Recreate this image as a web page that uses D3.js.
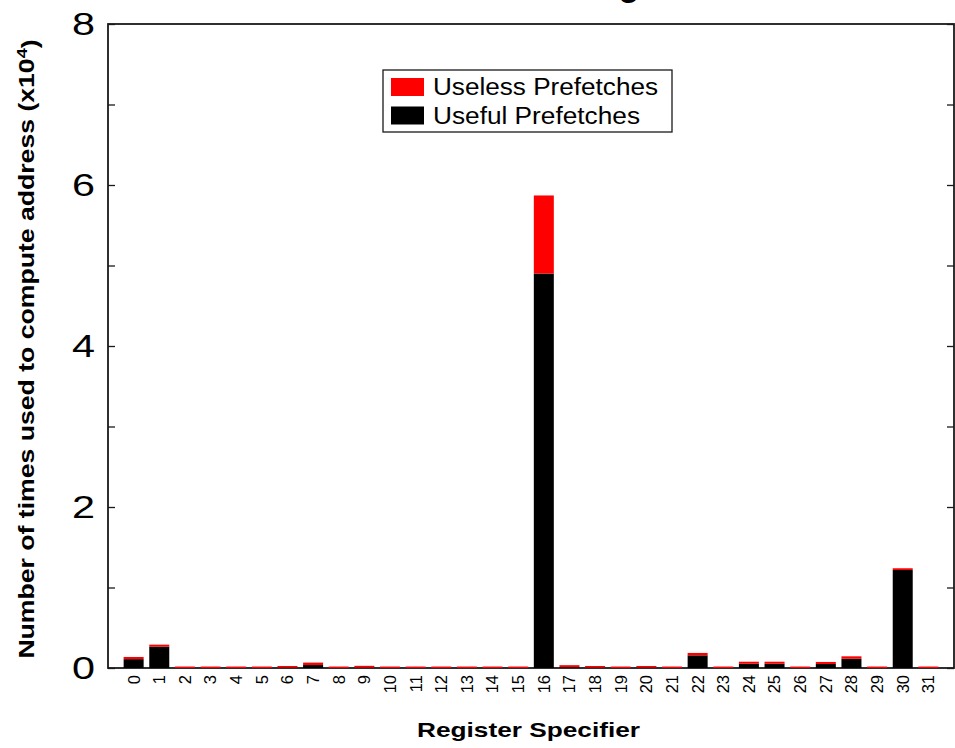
<!DOCTYPE html>
<html>
<head>
<meta charset="utf-8">
<script src="https://cdn.jsdelivr.net/npm/d3@7"></script>
<style>
  html, body { margin: 0; padding: 0; background: #fff; }
  svg { display: block; }
  text { font-family: "Liberation Sans", Arial, Helvetica, sans-serif; fill: #000; }
</style>
</head>
<body>
<svg id="chart" width="955" height="748"></svg>
<script>
// ---- data (values in units of 10^4) ----
const categories = ["0","1","2","3","4","5","6","7","8","9","10","11","12","13","14","15",
                    "16","17","18","19","20","21","22","23","24","25","26","27","28","29","30","31"];
const usefulPrefetches  = [0.11, 0.265, 0, 0, 0, 0, 0.005, 0.037, 0, 0.005, 0, 0, 0, 0, 0, 0,
                           4.90, 0.01, 0.005, 0, 0.005, 0, 0.157, 0, 0.053, 0.053, 0, 0.05, 0.115, 0, 1.217, 0];
const uselessPrefetches = [0.027, 0.025, 0.018, 0.018, 0.018, 0.018, 0.02, 0.03, 0.018, 0.022, 0.018, 0.018, 0.018, 0.018, 0.018, 0.018,
                           0.97, 0.025, 0.02, 0.018, 0.02, 0.018, 0.03, 0.018, 0.025, 0.025, 0.018, 0.025, 0.03, 0.018, 0.022, 0.018];
const yTickValues = [0, 2, 4, 6, 8];
const yMinorTicks = [1, 3, 5, 7];
const seriesNames = ["Useless Prefetches", "Useful Prefetches"];
const seriesColors = ["#ff0000", "#000000"];

// ---- layout ----
const svg = d3.select("#chart");
const L = 108, R = 954, T = 24, B = 668;
const x = d3.scaleLinear().domain([-1, categories.length]).range([L, R]);
const y = d3.scaleLinear().domain([0, 8]).range([B, T]);
const barW = (x(1) - x(0)) * 0.78;

// title (cut off above the canvas; only a descender shows)
svg.append("text")
  .attr("x", 575).attr("y", -4)
  .attr("text-anchor", "start")
  .style("font-weight", "bold").style("font-size", "34px")
  .text("Register Use");

// frame + axes first, bars drawn over the baseline
svg.append("rect")
  .attr("x", L).attr("y", T).attr("width", R - L).attr("height", B - T)
  .attr("fill", "none").attr("stroke", "#1a1a1a").attr("stroke-width", 1.8);

const yAxisL = d3.axisLeft(y).tickValues(yTickValues.concat(yMinorTicks)).tickSize(-7).tickFormat("");
const gl = svg.append("g").attr("transform", `translate(${L},0)`).call(yAxisL);
gl.select(".domain").remove();
gl.selectAll("line").attr("stroke", "#1a1a1a").attr("stroke-width", 1.3);
const yAxisR = d3.axisRight(y).tickValues(yTickValues.concat(yMinorTicks)).tickSize(-7).tickFormat("");
const gr = svg.append("g").attr("transform", `translate(${R},0)`).call(yAxisR);
gr.select(".domain").remove();
gr.selectAll("line").attr("stroke", "#1a1a1a").attr("stroke-width", 1.3);

// bars (stacked: useful at bottom, useless on top)
const data = categories.map((c, i) => ({ c, i, useful: usefulPrefetches[i], useless: uselessPrefetches[i] }));
const g = svg.append("g");
g.selectAll("rect.useful").data(data).join("rect")
  .attr("class", "useful")
  .attr("x", d => x(d.i) - barW / 2)
  .attr("width", barW)
  .attr("y", d => y(d.useful))
  .attr("height", d => y(0) - y(d.useful))
  .attr("fill", seriesColors[1]);
g.selectAll("rect.useless").data(data).join("rect")
  .attr("class", "useless")
  .attr("x", d => x(d.i) - barW / 2)
  .attr("width", barW)
  .attr("y", d => y(d.useful + d.useless))
  .attr("height", d => y(d.useful) - y(d.useful + d.useless))
  .attr("fill", seriesColors[0]);

// y tick labels
svg.append("g").selectAll("text").data(yTickValues).join("text")
  .attr("x", L - 13).attr("y", d => y(d)).attr("dy", "0.35em")
  .attr("text-anchor", "end")
  .attr("textLength", 23).attr("lengthAdjust", "spacingAndGlyphs")
  .style("font-size", "32px")
  .text(d => d);

// x tick labels (rotated)
svg.append("g").selectAll("text").data(data).join("text")
  .attr("transform", d => `translate(${x(d.i)},${B + 7}) rotate(-90)`)
  .attr("dy", "0.36em")
  .attr("text-anchor", "end")
  .style("font-size", "16.5px")
  .text(d => d.c);

// x axis title
svg.append("text")
  .attr("x", 528.5).attr("y", 737)
  .attr("text-anchor", "middle")
  .attr("textLength", 223).attr("lengthAdjust", "spacingAndGlyphs")
  .style("font-weight", "bold").style("font-size", "21px")
  .text("Register Specifier");

// y axis title
const yt = svg.append("text")
  .attr("transform", "translate(34,349) rotate(-90) scale(1.21,1)")
  .attr("text-anchor", "middle")
  .style("font-weight", "bold").style("font-size", "22px");
yt.append("tspan").text("Number of times used to compute address (x10");
yt.append("tspan").attr("dy", "-0.45em").style("font-size", "15px").text("4");
yt.append("tspan").attr("dy", "0.45em").text(")");

// legend
const lg = svg.append("g");
lg.append("rect").attr("x", 383).attr("y", 70).attr("width", 289).attr("height", 62)
  .attr("fill", "#fff").attr("stroke", "#1a1a1a").attr("stroke-width", 1.3);
const legendLengths = [225, 207];
seriesNames.forEach((name, i) => {
  lg.append("rect").attr("x", 391).attr("y", 78 + i * 28.5).attr("width", 33).attr("height", 18)
    .attr("fill", seriesColors[i]);
  lg.append("text").attr("x", 433).attr("y", 95 + i * 28.5)
    .attr("textLength", legendLengths[i]).attr("lengthAdjust", "spacingAndGlyphs")
    .style("font-size", "23.5px").text(name);
});
</script>
</body>
</html>
